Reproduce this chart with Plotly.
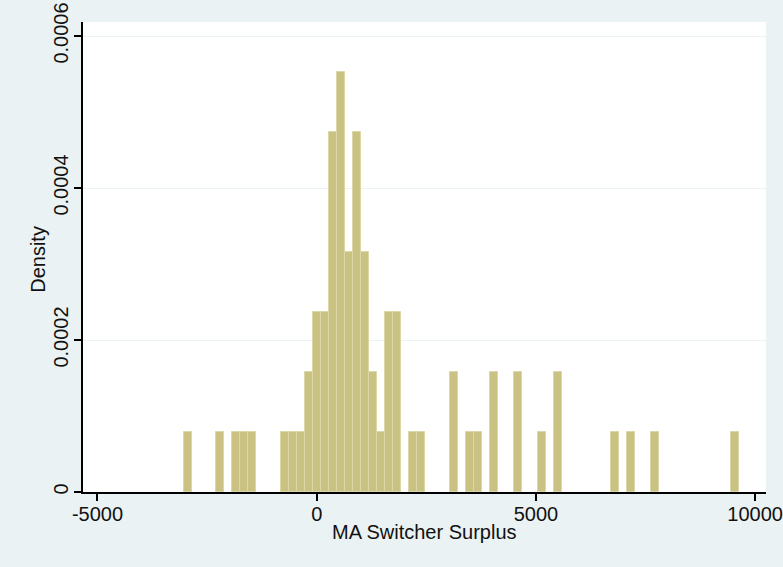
import plotly.graph_objects as go

# Histogram of MA switcher surplus: 69 equal-width bins spanning the data range
bin_start = -3027.0      # lower edge of the first bin (data minimum)
bin_width = 183.6        # width of each bin
bin_counts = [
    1, 0, 0, 0, 1, 0, 1, 1, 1, 0,
    0, 0, 1, 1, 1, 2, 3, 3, 6, 7,
    4, 6, 4, 2, 1, 3, 3, 0, 1, 1,
    0, 0, 0, 2, 0, 1, 1, 0, 2, 0,
    0, 2, 0, 0, 1, 0, 2, 0, 0, 0,
    0, 0, 0, 1, 0, 1, 0, 0, 1, 0,
    0, 0, 0, 0, 0, 0, 0, 0, 1,
]

x_ticks = [-5000, 0, 5000, 10000]
x_tick_labels = ["-5000", "0", "5000", "10000"]
y_ticks = [0, 0.0002, 0.0004, 0.0006]
y_tick_labels = ["0", "0.0002", "0.0004", "0.0006"]
x_title = "MA Switcher Surplus"
y_title = "Density"

n_obs = sum(bin_counts)
centers = [bin_start + (i + 0.5) * bin_width for i, c in enumerate(bin_counts) if c > 0]
density = [c / (n_obs * bin_width) for c in bin_counts if c > 0]

FONT = "Liberation Sans, Arial, sans-serif"
BG = "#EAF2F3"

fig = go.Figure(
    go.Bar(
        x=centers,
        y=density,
        width=bin_width,
        marker=dict(color="#C9C283", line=dict(color="#DCD7A6", width=1)),
        hoverinfo="x+y",
    )
)

fig.update_layout(
    width=783,
    height=567,
    margin=dict(l=83, r=17, t=22, b=75, autoexpand=False),
    paper_bgcolor=BG,
    plot_bgcolor="white",
    showlegend=False,
    bargap=0,
    font=dict(family=FONT, size=20, color="#111111"),
    annotations=[
        dict(text=x_title, xref="paper", yref="paper", x=0.5, y=-0.085,
             xanchor="center", yanchor="middle", showarrow=False,
             font=dict(size=20)),
        dict(text=y_title, xref="paper", yref="paper", x=-0.066, y=0.496,
             xanchor="center", yanchor="middle", textangle=-90, showarrow=False,
             font=dict(size=20)),
    ],
)

fig.update_xaxes(
    range=[-5330, 10248],
    automargin=False,
    tickmode="array",
    tickvals=x_ticks,
    ticktext=x_tick_labels,
    ticks="outside",
    ticklen=7,
    tickwidth=1.5,
    tickcolor="black",
    ticklabelstandoff=-4,
    showline=True,
    linecolor="black",
    linewidth=1.5,
    showgrid=False,
    zeroline=False,
    tickfont=dict(size=20),
)

fig.update_yaxes(
    range=[0, 0.00061842],
    automargin=False,
    tickmode="array",
    tickvals=y_ticks,
    ticktext=y_tick_labels,
    tickangle=-90,
    ticks="outside",
    ticklen=7,
    tickwidth=1.5,
    tickcolor="black",
    ticklabelstandoff=-2,
    showline=True,
    linecolor="black",
    linewidth=1.5,
    showgrid=True,
    gridcolor=BG,
    gridwidth=1,
    zeroline=False,
    tickfont=dict(size=20),
)

fig.write_html("out.html")
